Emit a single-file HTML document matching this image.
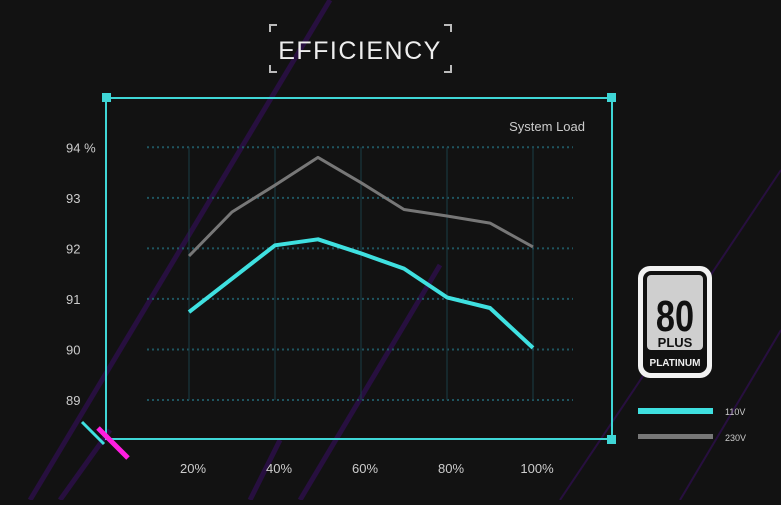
<!DOCTYPE html>
<html><head><meta charset="utf-8"><style>
html,body{margin:0;padding:0;background:#121212;}
body{width:781px;height:500px;overflow:hidden;font-family:"Liberation Sans",sans-serif;}
svg text{font-family:"Liberation Sans",sans-serif;}
</style></head><body>
<svg id="chart" width="781" height="500" viewBox="0 0 781 500" xmlns="http://www.w3.org/2000/svg">
<rect width="781" height="500" fill="#121212"/>
<g stroke="#2a0f44" stroke-width="5" opacity="0.9">
<line x1="330" y1="0" x2="30" y2="500"/>
<line x1="110" y1="430" x2="60" y2="500"/>
<line x1="280" y1="440" x2="250" y2="500"/>
<line x1="440" y1="265" x2="300" y2="500"/>
<line x1="781" y1="170" x2="560" y2="500" stroke-width="2"/>
<line x1="781" y1="330" x2="680" y2="500" stroke-width="2"/>
</g>
<g stroke="#bbb" stroke-width="2" fill="none">
<path d="M270 32 V25 H277"/><path d="M444 25 H451 V32"/>
<path d="M270 65 V72 H277"/><path d="M444 72 H451 V65"/>
</g>
<text x="360" y="59" text-anchor="middle" fill="#eee" font-size="25" letter-spacing="1.5">EFFICIENCY</text>
<g id="grid"></g>
<rect x="106" y="98" width="506" height="341" fill="none" stroke="#3fd6d6" stroke-width="2"/>
<g fill="#3fd6d6">
<rect x="102" y="93" width="9" height="9"/><rect x="607" y="93" width="9" height="9"/>
<rect x="607" y="435" width="9" height="9"/>
</g>
<line x1="82" y1="422" x2="104" y2="444" stroke="#3fe0e0" stroke-width="3"/>
<line x1="98" y1="428" x2="128" y2="458" stroke="#ff1ee0" stroke-width="5"/>
<text x="585" y="131" text-anchor="end" fill="#ccc" font-size="13">System Load</text>
<g id="yticks"></g>
<g id="xticks"></g>
<g id="series"></g>
<g>
<rect x="638" y="266" width="74" height="112" rx="12" fill="#f2f2f2"/>
<rect x="643" y="271" width="64" height="102" rx="8" fill="#111"/>
<rect x="647" y="275" width="56" height="75" rx="4" fill="#cfcfcf"/>
<text x="675" y="331" text-anchor="middle" font-size="44" fill="#111" font-weight="bold" transform="translate(675 0) scale(0.78 1) translate(-675 0)">80</text>
<text x="675" y="347" text-anchor="middle" font-size="13" font-weight="bold" fill="#111">PLUS</text>
<text x="675" y="366" text-anchor="middle" font-size="10" font-weight="bold" fill="#eee">PLATINUM</text>
</g>
<g>
<rect x="638" y="408" width="75" height="6" fill="#3fe0e0"/>
<text x="725" y="415" fill="#ccc" font-size="9">110V</text>
<rect x="638" y="434" width="75" height="5" fill="#777"/>
<text x="725" y="441" fill="#ccc" font-size="9">230V</text>
</g>
</svg>
<script>
const loads = [20,30,40,50,60,70,80,90,100];
const eff230 = [91.85,92.72,93.25,93.8,93.3,92.77,92.64,92.5,92.03];
const eff110 = [90.74,91.4,92.06,92.18,91.9,91.6,91.03,90.82,90.03];
const yTicks = [89,90,91,92,93,94];
const yTickLabels = ['89','90','91','92','93','94 %'];
const xTicks = [20,40,60,80,100];
const xTickLabels = ['20%','40%','60%','80%','100%'];
const NS='http://www.w3.org/2000/svg';
function xs(v){return 189+(v-20)*(533-189)/80;}
function ys(v){return 400-(v-89)*(400-147.3)/5;}
function mk(tag,attrs,parent){const e=document.createElementNS(NS,tag);for(const k in attrs)e.setAttribute(k,attrs[k]);parent.appendChild(e);return e;}
const grid=document.getElementById('grid');
yTicks.forEach(t=>{
 const l=mk('line',{x1:147,x2:573,y1:ys(t),y2:ys(t),stroke:'#1f5560','stroke-width':2,'stroke-dasharray':'2 3'},grid);
 
 
});
xTicks.forEach(t=>{
 const l=mk('line',{x1:xs(t),x2:xs(t),y1:ys(94),y2:ys(89),stroke:'#1a3d46','stroke-width':1},grid);
 
 
});
const yt=document.getElementById('yticks');
yTicks.forEach((t,i)=>{
 const e=mk('text',{x:66,y:ys(t)+5,fill:'#ccc','font-size':13},yt);
 e.textContent=yTickLabels[i];
 
 
});
const xt=document.getElementById('xticks');
xTicks.forEach((t,i)=>{
 const e=mk('text',{x:xs(t)+4,y:473,fill:'#ccc','font-size':13,'text-anchor':'middle'},xt);
 e.textContent=xTickLabels[i];
 
 
});
const sg=document.getElementById('series');
function pts(arr){return loads.map((l,i)=>xs(l).toFixed(1)+','+ys(arr[i]).toFixed(1)).join(' ');}
const g230=mk('polyline',{points:pts(eff230),fill:'none',stroke:'#777','stroke-width':3,'stroke-linejoin':'round'},sg);


const g110=mk('polyline',{points:pts(eff110),fill:'none',stroke:'#3fe0e0','stroke-width':4,'stroke-linejoin':'round'},sg);


</script>
</body></html>
